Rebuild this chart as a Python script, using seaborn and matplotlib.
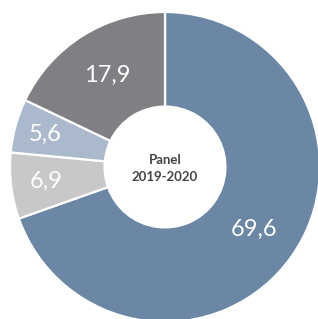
import numpy as np
import matplotlib
matplotlib.use("Agg")
import matplotlib.pyplot as plt
import seaborn as sns

# Share values (%) clockwise from the top
values = [69.6, 6.9, 5.6, 17.9]
labels = ["69,6", "6,9", "5,6", "17,9"]
colors = ["#6b87a5", "#c8c8ca", "#aab9cc", "#808084"]
center_text = "Panel\n2019-2020"

sns.set_theme(style="white")
plt.rcParams['font.family'] = ['Lato', 'DejaVu Sans']

fig = plt.figure(figsize=(3.18, 3.19), dpi=100)
ax = fig.add_axes([0, 0, 1, 1])

wedges, _ = ax.pie(values, colors=colors, startangle=90, counterclock=False,
                   radius=1.0, wedgeprops=dict(width=0.61, edgecolor="white", linewidth=1.6))

# label distances per wedge (fraction of radius)
dists = [0.70, 0.77, 0.80, 0.70]
for w, lab, d in zip(wedges, labels, dists):
    ang = np.deg2rad((w.theta1 + w.theta2) / 2)
    ax.text(d * np.cos(ang), d * np.sin(ang), lab, ha="center", va="center",
            color="white", fontsize=17)

ax.text(0, -0.01, center_text, ha="center", va="center", fontsize=9.5,
        fontweight="bold", color="#444444", linespacing=1.5)

# place center at (165, 167) px with radius 155 px
r = 155.0
ax.set_xlim(-165 / r, (318 - 165) / r)
ax.set_ylim(-(319 - 167) / r, 167 / r)
ax.set_aspect("auto")
ax.axis("off")

fig.savefig("out.png", dpi=100)
